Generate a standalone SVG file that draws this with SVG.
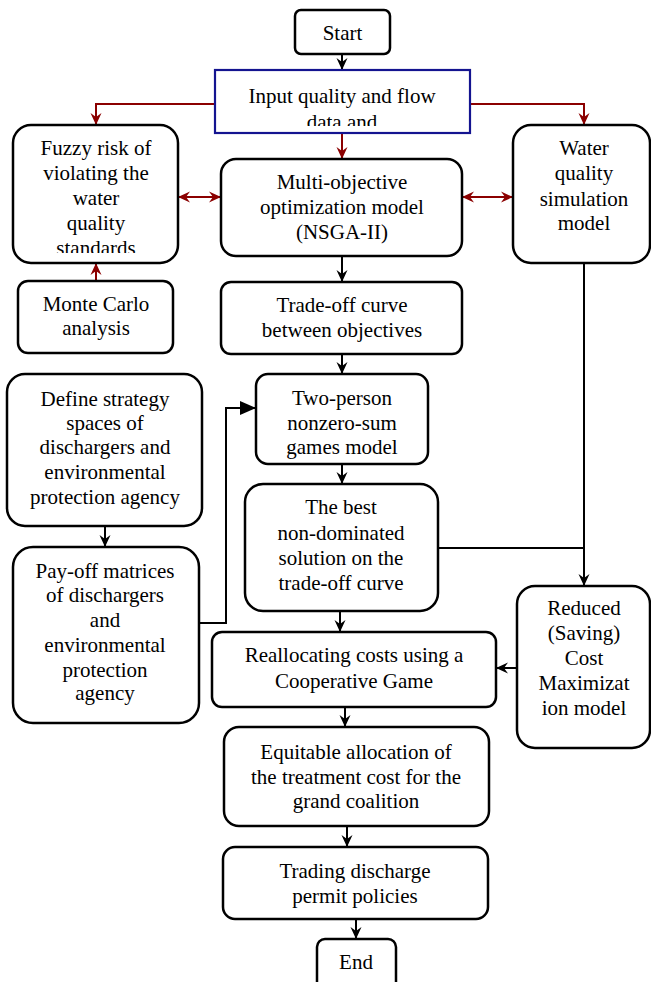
<svg xmlns="http://www.w3.org/2000/svg" width="651" height="982" viewBox="0 0 651 982">
<style>
.box{fill:#fff;stroke:#000;stroke-width:2.5}
.inp{fill:#fff;stroke:#141490;stroke-width:2.2}
text{font-family:"Liberation Serif","Times New Roman",serif;font-size:21px;fill:#000;text-anchor:middle}
.c{fill:none;stroke:#000;stroke-width:2}
.r{fill:none;stroke:#8b0000;stroke-width:2}
</style>
<defs>
<marker id="ab" markerUnits="userSpaceOnUse" markerWidth="16" markerHeight="14" viewBox="-13 -7 14 14" refX="0" refY="0" orient="auto"><path d="M0,0 L-12,-5.5 L-8,0 L-12,5.5 Z" fill="#000"/></marker>
<marker id="ar" markerUnits="userSpaceOnUse" markerWidth="16" markerHeight="14" viewBox="-13 -7 14 14" refX="0" refY="0" orient="auto-start-reverse"><path d="M0,0 L-12,-5.5 L-8,0 L-12,5.5 Z" fill="#8b0000"/></marker>
<marker id="at" markerUnits="userSpaceOnUse" markerWidth="18" markerHeight="16" viewBox="-17 -8 18 16" refX="0" refY="0" orient="auto"><path d="M0,0 L-16,-7 L-16,7 Z" fill="#000"/></marker>
<clipPath id="cpIn"><rect x="215" y="70" width="255" height="56"/></clipPath>
<clipPath id="cpFz"><rect x="13" y="125" width="165" height="128"/></clipPath>
</defs>
<g id="connectors">
<path class="c" d="M342,54 V70" marker-end="url(#ab)"/>
<path class="r" d="M215,104 H96 V125" marker-end="url(#ar)"/>
<path class="r" d="M470,104 H584 V125" marker-end="url(#ar)"/>
<path class="r" d="M342,133 V159" marker-end="url(#ar)"/>
<path class="r" d="M178,197 H221" marker-start="url(#ar)" marker-end="url(#ar)"/>
<path class="r" d="M462,197 H513" marker-start="url(#ar)" marker-end="url(#ar)"/>
<path class="r" d="M96,281 V263" marker-end="url(#ar)"/>
<path class="c" d="M342,256 V282" marker-end="url(#ab)"/>
<path class="c" d="M342,354 V374" marker-end="url(#ab)"/>
<path class="c" d="M342,464 V484" marker-end="url(#ab)"/>
<path class="c" d="M438,548 H584"/>
<path class="c" d="M584,263 V586" marker-end="url(#ab)"/>
<path class="c" d="M340,611 V632" marker-end="url(#ab)"/>
<path class="c" d="M517,668 H496" marker-end="url(#ab)"/>
<path class="c" d="M345,707 V727" marker-end="url(#ab)"/>
<path class="c" d="M347,826 V847" marker-end="url(#ab)"/>
<path class="c" d="M356,919 V939" marker-end="url(#ab)"/>
<path class="c" d="M105,526 V547" marker-end="url(#ab)"/>
<path class="c" d="M199,623 H226 V408 H256" marker-end="url(#at)"/>
</g>
<g id="start"><rect class="box" x="295" y="10" width="95" height="44" rx="6"/><text x="342.5" y="40">Start</text></g>
<g id="input"><rect class="inp" x="215" y="70" width="255" height="63"/><g clip-path="url(#cpIn)"><text x="342" y="103">Input quality and flow</text><text x="342" y="129">data and</text></g></g>
<g id="fuzzy"><rect class="box" x="13" y="125" width="165" height="138" rx="18"/><g clip-path="url(#cpFz)"><text x="96" y="155">Fuzzy risk of</text><text x="96" y="180">violating the</text><text x="96" y="205">water</text><text x="96" y="230">quality</text><text x="96" y="255">standards</text></g></g>
<g id="multi"><rect class="box" x="221" y="159" width="241" height="97" rx="15"/><text x="342" y="189">Multi-objective</text><text x="342" y="214">optimization model</text><text x="342" y="239">(NSGA-II)</text></g>
<g id="water"><rect class="box" x="513" y="125" width="137" height="138" rx="18"/><text x="584" y="155">Water</text><text x="584" y="180">quality</text><text x="584" y="206">simulation</text><text x="584" y="230">model</text></g>
<g id="monte"><rect class="box" x="18" y="281" width="155" height="72" rx="10"/><text x="96" y="311">Monte Carlo</text><text x="96" y="335">analysis</text></g>
<g id="tradeoff"><rect class="box" x="221" y="282" width="241" height="72" rx="10"/><text x="342" y="312">Trade-off curve</text><text x="342" y="337">between objectives</text></g>
<g id="twoperson"><rect class="box" x="256" y="374" width="172" height="90" rx="12"/><text x="342" y="405">Two-person</text><text x="342" y="430">nonzero-sum</text><text x="342" y="454">games model</text></g>
<g id="best"><rect class="box" x="245" y="484" width="193" height="127" rx="18"/><text x="341" y="514">The best</text><text x="341" y="540">non-dominated</text><text x="341" y="565">solution on the</text><text x="341" y="590">trade-off curve</text></g>
<g id="realloc"><rect class="box" x="212" y="632" width="284" height="75" rx="10"/><text x="354" y="662">Reallocating costs using a</text><text x="354" y="688">Cooperative Game</text></g>
<g id="reduced"><rect class="box" x="517" y="586" width="133" height="162" rx="18"/><text x="584" y="615">Reduced</text><text x="584" y="640">(Saving)</text><text x="584" y="665">Cost</text><text x="584" y="690">Maximizat</text><text x="584" y="715">ion model</text></g>
<g id="equitable"><rect class="box" x="224" y="727" width="265" height="99" rx="15"/><text x="356" y="759">Equitable allocation of</text><text x="356" y="784">the treatment cost for the</text><text x="356" y="808">grand coalition</text></g>
<g id="trading"><rect class="box" x="223" y="847" width="265" height="72" rx="12"/><text x="355" y="878">Trading discharge</text><text x="355" y="903">permit policies</text></g>
<g id="end"><rect class="box" x="317" y="939" width="79" height="60" rx="8"/><text x="356" y="969">End</text></g>
<g id="define"><rect class="box" x="7" y="374" width="195" height="152" rx="18"/><text x="105" y="406">Define strategy</text><text x="105" y="430">spaces of</text><text x="105" y="454">dischargers and</text><text x="105" y="479">environmental</text><text x="105" y="504">protection agency</text></g>
<g id="payoff"><rect class="box" x="13" y="547" width="186" height="176" rx="20"/><text x="105" y="578">Pay-off matrices</text><text x="105" y="602">of dischargers</text><text x="105" y="627">and</text><text x="105" y="652">environmental</text><text x="105" y="677">protection</text><text x="105" y="700">agency</text></g>
</svg>
